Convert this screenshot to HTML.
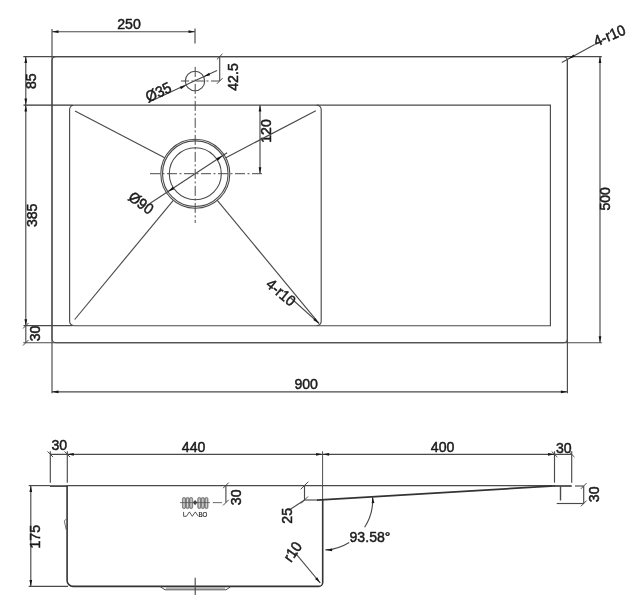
<!DOCTYPE html>
<html><head><meta charset="utf-8"><style>
html,body{margin:0;padding:0;background:#fff;}
svg{display:block;}
text{font-family:"Liberation Sans",sans-serif;fill:#1a1a1a;stroke:#1a1a1a;stroke-width:0.5px;}
svg{will-change:transform;}
</style></head><body>
<svg width="637" height="600" viewBox="0 0 637 600">
<rect width="637" height="600" fill="#fff"/>
<path d="M56,56.6 H563.4 A4,4 0 0 1 567.4,60.6 V338.7 A4,4 0 0 1 563.4,342.7 H56 A4,4 0 0 1 52,338.7 V60.6 A4,4 0 0 1 56,56.6 Z" stroke="#4a4a4a" stroke-width="1.15" fill="none" />
<path d="M74.1,105.1 H316.7 A4.5,4.5 0 0 1 321.2,109.6 V321.2 A4.5,4.5 0 0 1 316.7,325.7 H74.1 A4.5,4.5 0 0 1 69.6,321.2 V109.6 A4.5,4.5 0 0 1 74.1,105.1 Z" stroke="#4a4a4a" stroke-width="1.15" fill="none" />
<path d="M316.7,105.1 H550.4 V325.7 H316.7" stroke="#4a4a4a" stroke-width="1.15" fill="none" />
<line x1="23.30" y1="56.60" x2="601.80" y2="56.60" stroke="#4a4a4a" stroke-width="1.15" />
<line x1="23.30" y1="342.70" x2="601.80" y2="342.70" stroke="#4a4a4a" stroke-width="1.15" />
<line x1="23.50" y1="105.10" x2="72.60" y2="105.10" stroke="#333" stroke-width="1.4" />
<line x1="23.50" y1="325.70" x2="72.60" y2="325.70" stroke="#4a4a4a" stroke-width="1.2" />
<line x1="52.00" y1="29.00" x2="52.00" y2="393.30" stroke="#4a4a4a" stroke-width="1.15" />
<line x1="567.40" y1="59.60" x2="567.40" y2="393.30" stroke="#4a4a4a" stroke-width="1.15" />
<line x1="195.00" y1="28.50" x2="195.00" y2="43.50" stroke="#4a4a4a" stroke-width="1.15" />
<line x1="52.00" y1="31.70" x2="195.00" y2="31.70" stroke="#4a4a4a" stroke-width="1.15" />
<polygon points="52.00,31.70 58.50,30.35 58.50,33.05" fill="#151515"/>
<polygon points="195.00,31.70 188.50,33.05 188.50,30.35" fill="#151515"/>
<text x="0" y="0" font-size="15.2" text-anchor="middle" dominant-baseline="central" transform="translate(129.00 24.00) scale(0.93 1)" >250</text>
<line x1="25.80" y1="56.60" x2="25.80" y2="342.70" stroke="#4a4a4a" stroke-width="1.15" />
<polygon points="25.80,56.60 27.15,63.10 24.45,63.10" fill="#151515"/>
<polygon points="25.80,105.10 24.45,98.60 27.15,98.60" fill="#151515"/>
<polygon points="25.80,105.10 27.15,111.60 24.45,111.60" fill="#151515"/>
<polygon points="25.80,325.70 24.45,319.20 27.15,319.20" fill="#151515"/>
<line x1="23.00" y1="328.50" x2="28.60" y2="322.90" stroke="#4a4a4a" stroke-width="1" />
<line x1="23.00" y1="345.50" x2="28.60" y2="339.90" stroke="#4a4a4a" stroke-width="1" />
<text x="0" y="0" font-size="15.2" text-anchor="middle" dominant-baseline="central" transform="translate(31.30 81.20) rotate(-90) scale(0.93 1)" >85</text>
<text x="0" y="0" font-size="15.2" text-anchor="middle" dominant-baseline="central" transform="translate(31.50 215.30) rotate(-90) scale(0.93 1)" >385</text>
<text x="0" y="0" font-size="15.2" text-anchor="middle" dominant-baseline="central" transform="translate(34.50 333.50) rotate(-90) scale(0.93 1)" >30</text>
<line x1="52.00" y1="391.80" x2="567.40" y2="391.80" stroke="#4a4a4a" stroke-width="1.15" />
<polygon points="52.00,391.80 58.50,390.45 58.50,393.15" fill="#151515"/>
<polygon points="567.40,391.80 560.90,393.15 560.90,390.45" fill="#151515"/>
<text x="0" y="0" font-size="15.2" text-anchor="middle" dominant-baseline="central" transform="translate(306.20 384.00) scale(0.93 1)" >900</text>
<line x1="600.00" y1="56.60" x2="600.00" y2="342.70" stroke="#4a4a4a" stroke-width="1.15" />
<polygon points="600.00,56.60 601.35,63.10 598.65,63.10" fill="#151515"/>
<polygon points="600.00,342.70 598.65,336.20 601.35,336.20" fill="#151515"/>
<text x="0" y="0" font-size="15.2" text-anchor="middle" dominant-baseline="central" transform="translate(605.30 198.80) rotate(-90) scale(0.93 1)" >500</text>
<line x1="561.80" y1="62.50" x2="594.70" y2="44.50" stroke="#4a4a4a" stroke-width="1.15" />
<polygon points="568.50,58.80 573.45,54.38 574.80,56.72" fill="#151515"/>
<text x="0" y="0" font-size="15.2" text-anchor="middle" dominant-baseline="central" transform="translate(609.50 35.50) rotate(-23) scale(0.93 1)" >4-r10</text>
<circle cx="195.3" cy="173.7" r="34.5" stroke="#4a4a4a" stroke-width="1.1" fill="none" />
<circle cx="195.3" cy="173.7" r="32.8" stroke="#4a4a4a" stroke-width="1.1" fill="none" />
<circle cx="195.3" cy="173.7" r="26" stroke="#4a4a4a" stroke-width="1.1" fill="none" />
<circle cx="195" cy="81" r="9.7" stroke="#4a4a4a" stroke-width="1.1" fill="none" />
<line x1="195.20" y1="66.90" x2="195.20" y2="223.00" stroke="#4a4a4a" stroke-width="1" stroke-dasharray="10,2.5,2,2.5"/>
<line x1="150.00" y1="173.70" x2="263.00" y2="173.70" stroke="#4a4a4a" stroke-width="1" stroke-dasharray="10,2.5,2,2.5"/>
<line x1="181.00" y1="81.00" x2="219.70" y2="81.00" stroke="#4a4a4a" stroke-width="1" stroke-dasharray="8,2.5,2,2.5"/>
<line x1="219.70" y1="56.60" x2="219.70" y2="81.00" stroke="#4a4a4a" stroke-width="1.15" />
<line x1="216.90" y1="59.40" x2="222.50" y2="53.80" stroke="#4a4a4a" stroke-width="1" />
<line x1="216.90" y1="83.80" x2="222.50" y2="78.20" stroke="#4a4a4a" stroke-width="1" />
<text x="0" y="0" font-size="15.2" text-anchor="middle" dominant-baseline="central" transform="translate(233.20 77.00) rotate(-90) scale(0.93 1)" >42.5</text>
<line x1="260.00" y1="105.10" x2="260.00" y2="173.70" stroke="#4a4a4a" stroke-width="1.15" />
<polygon points="260.00,105.10 261.35,111.60 258.65,111.60" fill="#151515"/>
<polygon points="260.00,173.70 258.65,167.20 261.35,167.20" fill="#151515"/>
<text x="0" y="0" font-size="15.2" text-anchor="middle" dominant-baseline="central" transform="translate(266.00 131.00) rotate(-90) scale(0.93 1)" >120</text>
<line x1="148.00" y1="102.60" x2="217.00" y2="70.60" stroke="#4a4a4a" stroke-width="1.15" />
<polygon points="186.23,85.15 180.93,89.15 179.78,86.71" fill="#151515"/>
<polygon points="203.77,76.85 209.07,72.85 210.22,75.29" fill="#151515"/>
<text x="0" y="0" font-size="15.2" text-anchor="middle" dominant-baseline="central" transform="translate(158.30 92.20) rotate(-25.314149237896526) scale(0.93 1)" >Ø35</text>
<line x1="75.00" y1="111.00" x2="164.71" y2="157.75" stroke="#4a4a4a" stroke-width="1.15" />
<line x1="74.70" y1="319.50" x2="173.31" y2="200.28" stroke="#4a4a4a" stroke-width="1.15" />
<line x1="319.00" y1="323.40" x2="217.28" y2="200.30" stroke="#4a4a4a" stroke-width="1.15" />
<line x1="315.80" y1="110.70" x2="225.87" y2="157.72" stroke="#4a4a4a" stroke-width="1.15" />
<line x1="150.20" y1="203.30" x2="227.07" y2="152.85" stroke="#4a4a4a" stroke-width="1.15" />
<polygon points="222.89,155.59 217.86,160.69 216.21,158.18" fill="#151515"/>
<polygon points="167.71,191.81 172.74,186.71 174.39,189.22" fill="#151515"/>
<text x="0" y="0" font-size="15.2" text-anchor="middle" dominant-baseline="central" transform="translate(141.00 203.00) rotate(36) scale(0.93 1)" >Ø90</text>
<line x1="290.50" y1="297.80" x2="319.00" y2="323.40" stroke="#4a4a4a" stroke-width="1.15" />
<polygon points="319.00,323.40 313.27,320.05 315.07,318.05" fill="#151515"/>
<text x="0" y="0" font-size="15.2" text-anchor="middle" dominant-baseline="central" transform="translate(281.00 292.50) rotate(40) scale(0.93 1)" >4-r10</text>
<line x1="50.30" y1="454.30" x2="571.70" y2="454.30" stroke="#4a4a4a" stroke-width="1.15" />
<line x1="50.30" y1="451.30" x2="50.30" y2="482.70" stroke="#4a4a4a" stroke-width="1.15" />
<line x1="47.50" y1="451.50" x2="53.10" y2="457.10" stroke="#4a4a4a" stroke-width="1" />
<line x1="67.30" y1="451.30" x2="67.30" y2="482.70" stroke="#4a4a4a" stroke-width="1.15" />
<line x1="64.50" y1="451.50" x2="70.10" y2="457.10" stroke="#4a4a4a" stroke-width="1" />
<line x1="554.50" y1="451.30" x2="554.50" y2="482.70" stroke="#4a4a4a" stroke-width="1.15" />
<line x1="551.70" y1="451.50" x2="557.30" y2="457.10" stroke="#4a4a4a" stroke-width="1" />
<line x1="571.70" y1="451.30" x2="571.70" y2="482.70" stroke="#4a4a4a" stroke-width="1.15" />
<line x1="568.90" y1="451.50" x2="574.50" y2="457.10" stroke="#4a4a4a" stroke-width="1" />
<line x1="322.60" y1="451.30" x2="322.60" y2="500.00" stroke="#4a4a4a" stroke-width="1.0" />
<polygon points="67.30,454.30 73.80,452.95 73.80,455.65" fill="#151515"/>
<polygon points="322.60,454.30 316.10,455.65 316.10,452.95" fill="#151515"/>
<polygon points="322.60,454.30 329.10,452.95 329.10,455.65" fill="#151515"/>
<polygon points="554.50,454.30 548.00,455.65 548.00,452.95" fill="#151515"/>
<text x="0" y="0" font-size="15.2" text-anchor="middle" dominant-baseline="central" transform="translate(59.30 445.00) scale(0.93 1)" >30</text>
<text x="0" y="0" font-size="15.2" text-anchor="middle" dominant-baseline="central" transform="translate(193.60 446.60) scale(0.93 1)" >440</text>
<text x="0" y="0" font-size="15.2" text-anchor="middle" dominant-baseline="central" transform="translate(442.60 447.00) scale(0.93 1)" >400</text>
<text x="0" y="0" font-size="15.2" text-anchor="middle" dominant-baseline="central" transform="translate(563.80 447.60) scale(0.93 1)" >30</text>
<line x1="28.70" y1="485.60" x2="50.00" y2="485.60" stroke="#4a4a4a" stroke-width="1.15" />
<line x1="67.30" y1="485.60" x2="552.00" y2="485.60" stroke="#4a4a4a" stroke-width="1.15" />
<line x1="50.00" y1="486.10" x2="67.30" y2="486.10" stroke="#4a4a4a" stroke-width="1.8" />
<line x1="554.50" y1="486.00" x2="571.70" y2="486.00" stroke="#4a4a4a" stroke-width="1.8" />
<path d="M67.1,485.6 V580.4 A6,6 0 0 0 73.1,586.4 H318.7 A4,4 0 0 0 322.7,582.4 V500" stroke="#333" stroke-width="1.6" fill="none" />
<line x1="28.70" y1="586.40" x2="68.00" y2="586.40" stroke="#4a4a4a" stroke-width="1.15" />
<path d="M66.3,519 L64.3,521 L66.3,530" stroke="#4a4a4a" stroke-width="0.8" fill="none" />
<line x1="316.70" y1="500.10" x2="555.00" y2="485.90" stroke="#333" stroke-width="1.7" />
<line x1="560.50" y1="486.00" x2="560.50" y2="500.50" stroke="#4a4a4a" stroke-width="1.4" />
<line x1="575.00" y1="486.00" x2="583.70" y2="486.00" stroke="#4a4a4a" stroke-width="1.15" />
<line x1="556.70" y1="503.50" x2="583.70" y2="503.50" stroke="#4a4a4a" stroke-width="1.15" />
<line x1="583.70" y1="486.00" x2="583.70" y2="503.50" stroke="#4a4a4a" stroke-width="1.15" />
<line x1="580.90" y1="488.80" x2="586.50" y2="483.20" stroke="#4a4a4a" stroke-width="1" />
<line x1="580.90" y1="506.30" x2="586.50" y2="500.70" stroke="#4a4a4a" stroke-width="1" />
<text x="0" y="0" font-size="15.2" text-anchor="middle" dominant-baseline="central" transform="translate(594.30 494.30) rotate(-90) scale(0.93 1)" >30</text>
<line x1="30.80" y1="485.60" x2="30.80" y2="586.40" stroke="#4a4a4a" stroke-width="1.15" />
<polygon points="30.80,485.60 32.15,492.10 29.45,492.10" fill="#151515"/>
<polygon points="30.80,586.40 29.45,579.90 32.15,579.90" fill="#151515"/>
<text x="0" y="0" font-size="15.2" text-anchor="middle" dominant-baseline="central" transform="translate(34.60 536.70) rotate(-90) scale(0.93 1)" >175</text>
<line x1="304.50" y1="485.50" x2="304.50" y2="500.00" stroke="#4a4a4a" stroke-width="1.15" />
<line x1="300.65" y1="489.35" x2="308.35" y2="481.65" stroke="#4a4a4a" stroke-width="1" />
<line x1="301.00" y1="503.50" x2="308.00" y2="496.50" stroke="#4a4a4a" stroke-width="1" />
<line x1="304.50" y1="500.00" x2="316.70" y2="500.00" stroke="#4a4a4a" stroke-width="1.15" />
<line x1="304.50" y1="500.00" x2="288.50" y2="510.50" stroke="#4a4a4a" stroke-width="1.15" />
<text x="0" y="0" font-size="15.2" text-anchor="middle" dominant-baseline="central" transform="translate(287.00 515.80) rotate(-90) scale(0.93 1)" >25</text>
<path d="M372.59,496.69 A50,50 0 0 1 364.63,527.23" stroke="#4a4a4a" stroke-width="1.15" fill="none" />
<path d="M349.20,542.40 A50,50 0 0 1 325.32,549.93" stroke="#4a4a4a" stroke-width="1.15" fill="none" />
<polygon points="372.59,496.69 374.37,503.08 371.67,503.26" fill="#151515"/>
<polygon points="325.62,549.93 332.12,548.58 332.12,551.28" fill="#151515"/>
<text x="0" y="0" font-size="15.2" text-anchor="middle" dominant-baseline="central" transform="translate(370.00 536.50) scale(0.93 1)" >93.58°</text>
<line x1="295.20" y1="552.90" x2="320.30" y2="583.00" stroke="#4a4a4a" stroke-width="1.15" />
<polygon points="320.30,583.00 315.09,578.89 317.16,577.15" fill="#151515"/>
<text x="0" y="0" font-size="15.2" text-anchor="middle" dominant-baseline="central" transform="translate(292.60 551.60) rotate(-55) scale(0.93 1)" >r10</text>
<path d="M160.2,586.6 L165,589.8 H226 L230.8,586.6" stroke="#4a4a4a" stroke-width="1" fill="none" />
<line x1="166.00" y1="588.20" x2="225.00" y2="588.20" stroke="#4a4a4a" stroke-width="0.6" />
<line x1="195.20" y1="577.70" x2="195.20" y2="595.00" stroke="#4a4a4a" stroke-width="1.15" />
<line x1="212.70" y1="502.60" x2="222.00" y2="502.60" stroke="#777" stroke-width="1.1" />
<rect x="182.40" y="497.4" width="3.2" height="11.2" rx="1.5" fill="#9a9a9a" stroke="#555" stroke-width="0.6"/>
<line x1="184.00" y1="498.6" x2="184.00" y2="507.4" stroke="#f4f4f4" stroke-width="0.7"/>
<rect x="185.95" y="497.4" width="3.2" height="11.2" rx="1.5" fill="#9a9a9a" stroke="#555" stroke-width="0.6"/>
<line x1="187.55" y1="498.6" x2="187.55" y2="507.4" stroke="#f4f4f4" stroke-width="0.7"/>
<rect x="189.50" y="497.4" width="3.2" height="11.2" rx="1.5" fill="#9a9a9a" stroke="#555" stroke-width="0.6"/>
<line x1="191.10" y1="498.6" x2="191.10" y2="507.4" stroke="#f4f4f4" stroke-width="0.7"/>
<rect x="197.70" y="497.4" width="3.2" height="11.2" rx="1.5" fill="#9a9a9a" stroke="#555" stroke-width="0.6"/>
<line x1="199.30" y1="498.6" x2="199.30" y2="507.4" stroke="#f4f4f4" stroke-width="0.7"/>
<rect x="201.25" y="497.4" width="3.2" height="11.2" rx="1.5" fill="#9a9a9a" stroke="#555" stroke-width="0.6"/>
<line x1="202.85" y1="498.6" x2="202.85" y2="507.4" stroke="#f4f4f4" stroke-width="0.7"/>
<rect x="204.80" y="497.4" width="3.2" height="11.2" rx="1.5" fill="#9a9a9a" stroke="#555" stroke-width="0.6"/>
<line x1="206.40" y1="498.6" x2="206.40" y2="507.4" stroke="#f4f4f4" stroke-width="0.7"/>
<line x1="180.00" y1="502.60" x2="210.00" y2="502.60" stroke="#555" stroke-width="0.8" />
<polygon points="195.1,500 197.3,502.6 195.1,505.2 192.9,502.6" fill="#444"/>
<path d="M183.6,511.9 V516.3 H186.4 L189.4,511.9 L192.3,516.3 L195.3,511.9 L198.3,516.3" stroke="#222" stroke-width="0.75" fill="none" />
<text x="0" y="0" font-size="6.6" text-anchor="middle" dominant-baseline="central" transform="translate(202.90 514.30) scale(0.93 1)" style="stroke-width:0.15px">BO</text>
<line x1="225.90" y1="485.40" x2="225.90" y2="502.60" stroke="#4a4a4a" stroke-width="1.15" />
<line x1="223.10" y1="488.20" x2="228.70" y2="482.60" stroke="#4a4a4a" stroke-width="1" />
<line x1="223.10" y1="505.40" x2="228.70" y2="499.80" stroke="#4a4a4a" stroke-width="1" />
<text x="0" y="0" font-size="15.2" text-anchor="middle" dominant-baseline="central" transform="translate(235.60 497.30) rotate(-90) scale(0.93 1)" >30</text>
</svg></body></html>
